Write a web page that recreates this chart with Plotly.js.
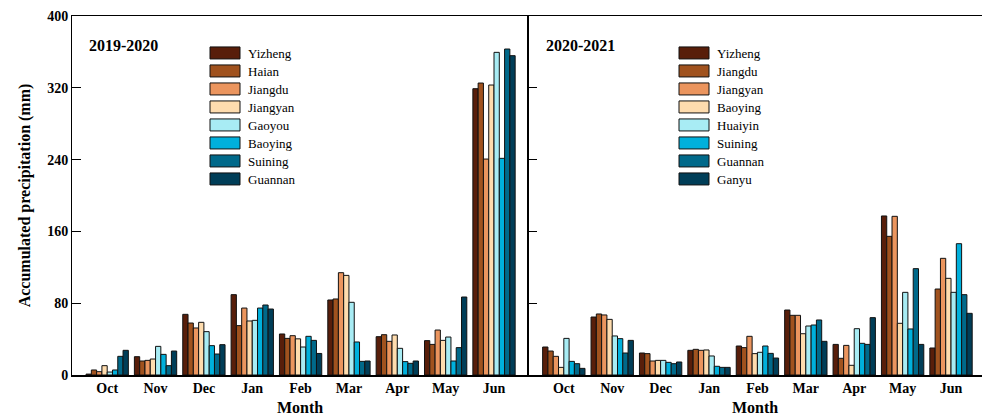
<!DOCTYPE html>
<html>
<head>
<meta charset="utf-8">
<script src="https://cdn.plot.ly/plotly-3.0.1.min.js"></script>
<style>html,body{margin:0;padding:0;background:#fff;}#chart{width:982px;height:418px;}</style>
</head>
<body>
<div id="chart"></div>
<script>
const months = ["Oct","Nov","Dec","Jan","Feb","Mar","Apr","May","Jun"];

// 2019-2020 stations
const stations1 = ["Yizheng","Haian","Jiangdu","Jiangyan","Gaoyou","Baoying","Suining","Guannan"];
const yizheng1  = [1, 20.4, 67.6, 89.5, 45.7, 83.6, 42.7, 38.3, 319];
const haian1    = [5.6, 15.6, 57.9, 55, 40.8, 84.7, 44.9, 34.1, 325.3];
const jiangdu1  = [3.7, 16.3, 52.4, 74.6, 43.8, 114, 37.5, 50.1, 240.6];
const jiangyan1 = [10.4, 17.8, 58.7, 60.2, 40.3, 111, 44.6, 38.6, 323.1];
const gaoyou1   = [3.3, 31.9, 48.3, 60.9, 31.2, 81, 29.7, 42.3, 359.5];
const baoying1  = [5.6, 23, 32.7, 74.6, 43.1, 36.8, 14.9, 15.6, 241.4];
const suining1  = [20.8, 10.4, 23.4, 78, 38.6, 15.2, 13, 30.5, 363.2];
const guannan1  = [27.5, 26.7, 33.8, 73.5, 24, 15.6, 15.6, 86.9, 355.8];
const series1 = [yizheng1, haian1, jiangdu1, jiangyan1, gaoyou1, baoying1, suining1, guannan1];

// 2020-2021 stations
const stations2 = ["Yizheng","Jiangdu","Jiangyan","Baoying","Huaiyin","Suining","Guannan","Ganyu"];
const yizheng2  = [31.2, 64.6, 24.5, 27.5, 32.3, 72.4, 34.1, 177.2, 30.1];
const jiangdu2  = [26.7, 68, 23.8, 28.6, 30.5, 66.5, 18.6, 154.5, 95.8];
const jiangyan2 = [20.8, 66.9, 15.6, 27.5, 43.1, 66.5, 33, 176.8, 130];
const baoying2  = [8.5, 62, 16.3, 27.9, 23.8, 46, 10.8, 57.6, 107.7];
const huaiyin2  = [40.8, 43.5, 16.3, 21.2, 25.3, 54.6, 51.6, 92.1, 92.1];
const suining2  = [15.2, 40.5, 14.1, 9.7, 32.3, 55.7, 35.3, 51.3, 146.3];
const guannan2  = [12.6, 24.5, 12.6, 8.5, 24.1, 61.3, 34.1, 118.5, 89.5];
const ganyu2    = [7.4, 38.6, 14.5, 8.5, 18.9, 37.5, 63.9, 34.1, 68.7];
const series2 = [yizheng2, jiangdu2, jiangyan2, baoying2, huaiyin2, suining2, guannan2, ganyu2];

const colors = ["#581e0a","#a0521e","#eb955e","#fedcae","#a8ecf4","#00b0dc","#00698a","#003e58"];
const yTicks = [0, 80, 160, 240, 320, 400];

const serif = "Liberation Serif";
const traces = [];
stations1.forEach((s, i) => traces.push({
  type: "bar", x: months, y: series1[i], name: s, xaxis: "x", yaxis: "y",
  marker: {color: colors[i], line: {color: "#111", width: 1}}, legend: "legend"
}));
stations2.forEach((s, i) => traces.push({
  type: "bar", x: months, y: series2[i], name: s, xaxis: "x2", yaxis: "y2",
  marker: {color: colors[i], line: {color: "#111", width: 1}}, legend: "legend2"
}));

const W = 982, L = 72, R = 0;
const split = (528 - L) / (W - L - R);

const xBase = {
  type: "category", showline: true, linecolor: "#000", linewidth: 1.5, mirror: true,
  ticks: "", showgrid: false, zeroline: false,
  tickfont: {family: serif, size: 14, color: "#000", weight: "bold"},
  title: {text: "Month", font: {family: serif, size: 16, color: "#000", weight: "bold"}, standoff: 6}
};
const legFont = {family: serif, size: 13, color: "#000"};
const layout = {
  width: 982, height: 418,
  margin: {l: L, r: R, t: 16, b: 43},
  paper_bgcolor: "#fff", plot_bgcolor: "#fff",
  barmode: "group", bargap: 0.125, bargroupgap: 0,
  font: {family: serif, color: "#000"},
  xaxis: Object.assign({}, xBase, {domain: [0, split], range: [-0.728, 8.703]}),
  xaxis2: Object.assign({}, xBase, {domain: [split, 1], range: [-0.74, 8.64], anchor: "y2"}),
  yaxis: {
    range: [0, 400], tickvals: yTicks, ticks: "inside", ticklen: 9, tickcolor: "#000",
    showline: true, linecolor: "#000", linewidth: 1, mirror: true, showgrid: false, zeroline: false,
    tickfont: {family: serif, size: 14, color: "#000", weight: "bold"},
    title: {text: "Accumulated precipitation (mm)", font: {family: serif, size: 16, color: "#000", weight: "bold"}, standoff: 12}
  },
  yaxis2: {
    range: [0, 400], tickvals: yTicks, ticks: "inside", ticklen: 9, tickcolor: "#000",
    showline: true, linecolor: "#000", linewidth: 1, showgrid: false, zeroline: false,
    showticklabels: false, anchor: "x2"
  },
  legend: {
    x: (208 - L) / (W - L - R), xanchor: "left", y: (375 - 38) / 359, yref: "paper", yanchor: "top",
    bgcolor: "rgba(0,0,0,0)", font: legFont, tracegroupgap: 0
  },
  legend2: {
    x: (677 - L) / (W - L - R), xanchor: "left", y: (375 - 38) / 359, yref: "paper", yanchor: "top",
    bgcolor: "rgba(0,0,0,0)", font: legFont, tracegroupgap: 0
  },
  annotations: [
    {text: "<b>2019-2020</b>", xref: "x domain", yref: "y domain", x: 0.033, y: 0.919, xanchor: "left", yanchor: "middle",
     showarrow: false, font: {family: serif, size: 16, color: "#000"}},
    {text: "<b>2020-2021</b>", xref: "x2 domain", yref: "y2 domain", x: 0.035, y: 0.919, xanchor: "left", yanchor: "middle",
     showarrow: false, font: {family: serif, size: 16, color: "#000"}}
  ],
  showlegend: true
};

Plotly.newPlot("chart", traces, layout, {displayModeBar: false, staticPlot: true}).then(function () {
  document.querySelectorAll("g.legend, g.legend2").forEach(function (lg) {
    lg.querySelectorAll(".legendpoints path").forEach(function (p) {
      p.setAttribute("d", "M-18,-6H12V6H-18Z");
    });
    lg.querySelectorAll("text.legendtext").forEach(function (t) {
      t.style.fontFamily = "'Liberation Serif', serif";
    });
    var items = lg.querySelectorAll("g.traces");
    var y0 = null, x0 = 0;
    items.forEach(function (it, i) {
      var m = /translate\(([-\d.]+)[ ,]+([-\d.]+)\)/.exec(it.getAttribute("transform") || "");
      if (!m) return;
      if (y0 === null) { y0 = parseFloat(m[2]); x0 = parseFloat(m[1]); }
      it.setAttribute("transform", "translate(" + x0 + "," + (y0 + i * 18) + ")");
    });
  });
});
</script>
</body>
</html>
